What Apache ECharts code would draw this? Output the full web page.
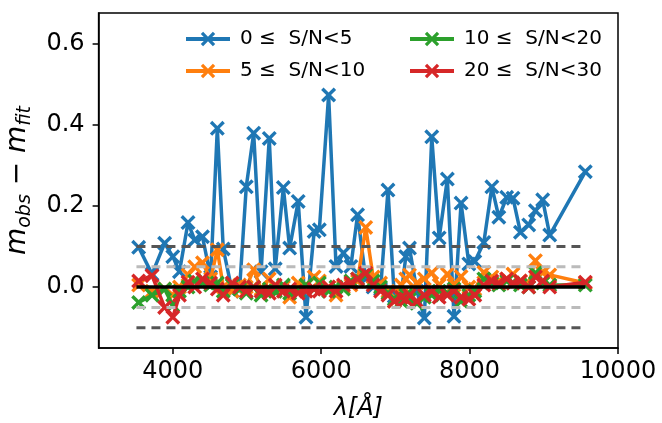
<!DOCTYPE html>
<html>
<head>
<meta charset="utf-8">
<script src="https://cdn.jsdelivr.net/npm/echarts@6/dist/echarts.min.js"></script>
<style>html,body{margin:0;padding:0;background:#fff}#c{width:662px;height:423px}</style>
</head>
<body>
<div id="c"></div>
<script>
const lambda = [3540,3720,3890,4000,4090,4205,4295,4400,4510,4600,4680,4800,4900,4990,5090,5190,5300,5380,5490,5575,5690,5795,5905,5975,6100,6200,6300,6400,6490,6600,6700,6800,6900,6985,7080,7140,7190,7290,7390,7490,7590,7700,7790,7885,7990,8070,8192,8300,8394,8500,8585,8685,8797,8887,8985,9080,9559];
const snr0_5 = [0.098,0.032,0.108,0.075,0.038,0.159,0.116,0.124,0.025,0.391,0.094,-0.010,-0.005,0.247,0.379,0.038,0.366,0.045,0.245,0.096,0.211,-0.074,0.137,0.141,0.473,0.051,0.084,0.051,0.178,0.020,0.000,-0.005,0.239,-0.023,-0.015,0.075,0.096,-0.010,-0.076,0.370,0.121,0.266,-0.072,0.207,0.057,0.063,0.110,0.247,0.172,0.221,0.219,0.135,0.153,0.188,0.215,0.128,0.284];
const snr5_10 = [0.005,-0.010,-0.005,-0.020,0.000,0.030,0.050,0.060,0.020,0.092,0.000,-0.010,0.005,0.000,0.043,-0.005,0.020,-0.010,0.000,-0.025,0.010,0.005,0.025,0.015,0.000,-0.020,0.000,0.005,0.015,0.147,0.025,0.010,-0.010,-0.035,0.005,0.020,0.030,0.010,0.020,0.035,0.005,0.032,0.005,0.026,0.000,-0.005,0.036,0.025,0.015,0.020,0.032,0.015,0.010,0.065,0.035,0.030,0.010];
const snr10_20 = [-0.038,-0.020,-0.005,-0.045,-0.010,0.000,0.015,0.010,0.005,0.010,-0.010,0.005,-0.005,-0.015,0.000,-0.020,-0.005,-0.010,0.005,-0.015,-0.010,0.005,-0.005,0.010,-0.010,0.000,-0.005,0.015,0.020,0.030,0.015,0.000,-0.015,-0.030,-0.035,-0.020,-0.030,-0.040,-0.025,-0.020,-0.010,-0.015,-0.005,-0.035,-0.020,-0.010,0.020,0.010,0.005,0.015,0.010,0.005,0.000,0.035,0.010,0.005,0.005];
const snr20_30 = [0.015,0.028,-0.050,-0.074,-0.020,0.012,0.000,0.020,0.010,-0.005,-0.020,0.010,0.000,-0.010,0.000,-0.010,-0.015,0.005,-0.010,-0.005,-0.015,-0.010,-0.005,-0.010,0.000,-0.010,0.005,0.010,0.020,0.035,0.005,-0.010,-0.020,-0.035,-0.025,-0.030,-0.020,-0.035,-0.020,-0.010,-0.025,-0.020,-0.010,-0.025,-0.030,-0.020,0.005,0.015,0.010,0.020,0.010,0.015,0.000,0.025,0.015,0.000,0.012];
const seriesNames = ['0 ≤  S/N<5','5 ≤  S/N<10','10 ≤  S/N<20','20 ≤  S/N<30'];
const seriesColors = ['#1f77b4','#ff7f0e','#2ca02c','#d62728'];
const xTicks = [4000,6000,8000,10000];
const yTicks = [0.0,0.2,0.4,0.6];
const refLevels = [0.1,-0.1,0.05,-0.05];
const lineStart = 3510, lineEnd = 9560;

const X_PATH = 'path://M0,1.6L1.6,0L5,3.4L8.4,0L10,1.6L6.6,5L10,8.4L8.4,10L5,6.6L1.6,10L0,8.4L3.4,5Z';
const FONT = 'DejaVu Sans';

const allSeries = [snr0_5, snr5_10, snr10_20, snr20_30];
const series = allSeries.map((vals, i) => ({
  name: seriesNames[i],
  type: 'line',
  data: lambda.map((l, j) => [l, vals[j]]),
  symbol: X_PATH,
  symbolSize: 15,
  showSymbol: true,
  lineStyle: {color: seriesColors[i], width: 3.5},
  itemStyle: {color: seriesColors[i]},
  emphasis: {disabled: true},
  z: 2 + i,
  animation: false
}));
const refColors = ['#555555','#555555','#bbbbbb','#bbbbbb'];
refLevels.forEach((lv, k) => {
  series.push({
    type: 'line', silent: true, symbol: 'none', z: 10,
    data: [[lineStart, lv],[lineEnd, lv]],
    lineStyle: {color: refColors[k], width: 3, type: [9, 6]},
    animation: false
  });
});
series.push({
  type: 'line', silent: true, symbol: 'none', z: 11,
  data: [[lineStart, 0],[lineEnd, 0]],
  lineStyle: {color: '#000', width: 3.5},
  animation: false
});

const legendCommon = {
  orient: 'vertical', top: 24, itemWidth: 44, itemHeight: 18, itemGap: 12,
  lineStyle: {width: 4},
  textStyle: {fontFamily: FONT, fontSize: 20, lineHeight: 20, color: '#000', padding: [0,0,0,5]}
};

const chart = echarts.init(document.getElementById('c'), null, {renderer: 'canvas'});
chart.setOption({
  backgroundColor: '#fff',
  animation: false,
  grid: {left: 98.6, right: 44, top: 13, bottom: 75, outerBoundsMode: 'none', containLabel: false, show: true, borderColor: '#000', borderWidth: 1.5, backgroundColor: 'transparent'},
  legend: [
    Object.assign({data: [seriesNames[0], seriesNames[1]], left: 179}, legendCommon),
    Object.assign({data: [seriesNames[2], seriesNames[3]], left: 403}, legendCommon)
  ],
  xAxis: {
    type: 'value', min: 3000, max: 10000,
    name: '{l|λ[Å]}', nameLocation: 'middle', nameGap: 49,
    nameTextStyle: {rich: {l: {fontFamily: FONT, fontSize: 24, fontStyle: 'italic', color: '#000'}}},
    axisLine: {show: true, onZero: false, lineStyle: {color: '#000', width: 1.5}},
    axisTick: {show: true, length: 6, lineStyle: {color: '#000', width: 1.5}, customValues: xTicks},
    axisLabel: {customValues: xTicks, fontFamily: FONT, fontSize: 24, color: '#000', margin: 12, formatter: v => String(v)},
    splitLine: {show: false}
  },
  yAxis: {
    type: 'value', min: -0.15, max: 0.675,
    name: '{m|m}{s|obs}{m| − m}{s|fit}', nameLocation: 'middle', nameRotate: 90, nameGap: 64,
    nameTextStyle: {rich: {
      m: {fontFamily: FONT, fontSize: 28, fontStyle: 'italic', color: '#000', lineHeight: 34, verticalAlign: 'middle'},
      s: {fontFamily: FONT, fontSize: 19, fontStyle: 'italic', color: '#000', lineHeight: 34, verticalAlign: 'bottom'}
    }},
    axisLine: {show: true, onZero: false, lineStyle: {color: '#000', width: 1.5}},
    axisTick: {show: true, length: 6, lineStyle: {color: '#000', width: 1.5}, customValues: yTicks},
    axisLabel: {customValues: yTicks, fontFamily: FONT, fontSize: 24, color: '#000', margin: 14, formatter: v => v.toFixed(1)},
    splitLine: {show: false}
  },
  series: series
});
</script>
</body>
</html>
